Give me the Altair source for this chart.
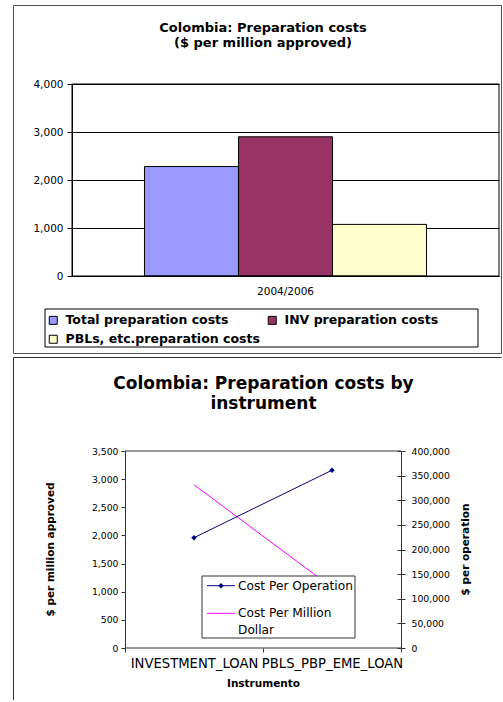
import altair as alt
import pandas as pd

FONT = "DejaVu Sans"

# Upper panel: preparation cost per million approved, one period, three series
period = ["2004/2006"]
series = ["Total preparation costs", "INV preparation costs", "PBLs, etc.preparation costs"]
cost_per_million = [2280, 2900, 1075]
bar_colors = ["#9999FF", "#993366", "#FFFFCC"]
# legend entries fill column by column: Total / PBLs in the first column, INV in the second
legend_order = [series[0], series[2], series[1]]

# Lower panel: cost by instrument
instruments = ["INVESTMENT_LOAN", "PBLS_PBP_EME_LOAN"]
cost_per_operation = [224000, 361000]
cost_per_million_dollar = [2900, 1075]

left_ticks = [0, 500, 1000, 1500, 2000, 2500, 3000, 3500]
right_ticks = [0, 50000, 100000, 150000, 200000, 250000, 300000, 350000, 400000]

bars_df = pd.DataFrame({"period": period * len(series), "series": series, "value": cost_per_million})
inst_df = pd.DataFrame({
    "instrument": instruments,
    "per_operation": cost_per_operation,
    "per_million": cost_per_million_dollar,
})
one = pd.DataFrame({"k": [0]})

W1, H1 = 427, 192
W2, H2 = 329, 197
X2 = 53  # left edge of the lower plot frame inside its view


def box(x, x2, y, y2, stroke="#404040", width=1.0, fill=None):
    kw = dict(stroke=stroke, strokeWidth=width)
    if fill is None:
        kw["fillOpacity"] = 0
    else:
        kw["fill"] = fill
    return alt.Chart(one).mark_rect(**kw).encode(
        x=alt.value(x), x2=alt.value(x2), y=alt.value(y), y2=alt.value(y2)
    )


def hline(x, x2, y, color, width=1.0):
    return alt.Chart(one).mark_rule(color=color, strokeWidth=width).encode(
        x=alt.value(x), x2=alt.value(x2), y=alt.value(y))


def vline(x, y, y2, color, width=1.0):
    return alt.Chart(one).mark_rule(color=color, strokeWidth=width).encode(
        x=alt.value(x), y=alt.value(y), y2=alt.value(y2))


def text(s, x, y, size, weight="normal", align="center"):
    return alt.Chart(one).mark_text(
        font=FONT, fontSize=size, fontWeight=weight, align=align,
        baseline="middle", color="black",
    ).encode(x=alt.value(x), y=alt.value(y), text=alt.value(s))


# ---------- upper panel ----------
bars = alt.Chart(bars_df).mark_bar(stroke="black", strokeWidth=1).encode(
    x=alt.X("period:N", scale=alt.Scale(paddingInner=0, paddingOuter=0.257),
            axis=alt.Axis(title=None, labelAngle=0, ticks=False, domain=True,
                          domainColor="black", labelPadding=10, labelFont=FONT,
                          labelFontSize=10.5, labelColor="black")),
    xOffset=alt.XOffset("series:N", sort=series,
                        scale=alt.Scale(paddingInner=0, paddingOuter=0)),
    y=alt.Y("value:Q", scale=alt.Scale(domain=[0, 4000]),
            axis=alt.Axis(title=None, values=[0, 1000, 2000, 3000, 4000], format=",.0f",
                          grid=True, gridColor="black", gridWidth=1,
                          domainColor="black", tickColor="black", tickSize=5,
                          labelPadding=4, labelFont=FONT, labelFontSize=10.5,
                          labelColor="black")),
    color=alt.Color("series:N", sort=series,
                    scale=alt.Scale(domain=series, range=bar_colors),
                    legend=alt.Legend(title=None, orient="none", legendX=-25, legendY=230,
                                      values=legend_order,
                                      columns=2, symbolType="square", symbolSize=64,
                                      symbolStrokeColor="black", symbolStrokeWidth=1,
                                      symbolOpacity=1, labelFont=FONT, labelFontSize=12.5,
                                      labelFontWeight="bold", labelColor="black",
                                      labelLimit=400, labelOffset=6, rowPadding=6,
                                      columnPadding=6, padding=0)),
)

top = alt.layer(
    box(-58.5, 429.5, -78.5, 269.5, stroke="#505050", width=1),
    bars,
    box(0, W1, 0, H1, stroke="black"),
    box(-27, 406, 225, 263, stroke="black"),
    text("Colombia: Preparation costs", 191, -56, 13, weight="bold"),
    text("($ per million approved)", 191, -41, 13, weight="bold"),
).properties(width=W1, height=H1)

# ---------- lower panel ----------
x_enc = alt.X("instrument:N", sort=instruments,
              scale=alt.Scale(domain=instruments, range=[X2, W2],
                              paddingInner=0, paddingOuter=0),
              axis=alt.Axis(title="Instrumento", domain=False, tickBand="extent",
                            tickSize=4, tickColor="#333333", labelAngle=0,
                            labelOverlap=False, labelFont=FONT, labelFontSize=13.2,
                            labelColor="black", labelPadding=5, titleFont=FONT,
                            titleFontSize=10.5, titleFontWeight="bold",
                            titleColor="black", titlePadding=9))

per_million_line = alt.Chart(inst_df).mark_line(color="#FF00FF", strokeWidth=1).encode(
    x=x_enc,
    y=alt.Y("per_million:Q", scale=alt.Scale(domain=[0, 3500]),
            axis=alt.Axis(orient="left", offset=-X2, values=left_ticks, format=",.0f",
                          grid=False, domainColor="#333333", tickColor="#333333",
                          tickSize=4, labelPadding=3, labelFont=FONT, labelFontSize=9.3,
                          labelColor="black", title="$ per million approved",
                          titleFont=FONT, titleFontSize=10.5, titleFontWeight="bold",
                          titleColor="black", titleAngle=270, titleAlign="center",
                          titleBaseline="middle", titleX=-75, titleY=98)),
)

per_operation_line = alt.Chart(inst_df).mark_line(
    color="#000080", strokeWidth=1,
    point=alt.OverlayMarkDef(shape="diamond", filled=True, size=30, color="#000080"),
).encode(
    x=x_enc,
    y=alt.Y("per_operation:Q", scale=alt.Scale(domain=[0, 400000]),
            axis=alt.Axis(orient="right", values=right_ticks, format=",.0f", grid=False,
                          domainColor="#333333", tickColor="#333333", tickSize=4,
                          labelPadding=6, labelFont=FONT, labelFontSize=9.3,
                          labelColor="black", title="$ per operation",
                          titleFont=FONT, titleFontSize=10.5, titleFontWeight="bold",
                          titleColor="black", titleAngle=270, titleAlign="center",
                          titleBaseline="middle", titleX=64, titleY=98)),
)

# inner half of the crossing ticks on the right axis
inner_ticks = alt.Chart(inst_df).mark_line(opacity=0).encode(
    x=x_enc,
    y=alt.Y("per_operation:Q", scale=alt.Scale(domain=[0, 400000]),
            axis=alt.Axis(orient="right", offset=-4, values=right_ticks, labels=False,
                          domain=False, grid=False, tickColor="#333333", tickSize=4,
                          title=None)),
)

bottom = alt.layer(
    # panel edge: only the top and left sides fall inside the page
    hline(-58.5, 429.5, -93.5, "#303030"),
    vline(-58.5, -93.5, 249, "#303030"),
    per_million_line,
    per_operation_line,
    inner_ticks,
    hline(X2, W2, 0, "#333333"),
    hline(X2, W2, H2, "#333333"),
    box(130, 283, 125, 187, stroke="#333333", fill="white"),
    hline(135, 163, 134.7, "#000080"),
    alt.Chart(one).mark_point(shape="diamond", filled=True, size=30,
                              color="#000080", opacity=1).encode(
        x=alt.value(149), y=alt.value(134.7)),
    hline(135, 163, 162.3, "#FF00FF"),
    text("Cost Per Operation", 166, 134.7, 12.2, align="left"),
    text("Cost Per Million", 166, 162, 12.2, align="left"),
    text("Dollar", 166, 179, 12.2, align="left"),
    text("Colombia: Preparation costs by", 191.5, -67.5, 17, weight="bold"),
    text("instrument", 191.5, -47.5, 17, weight="bold"),
).resolve_scale(y="independent").properties(width=W2, height=H2)

chart = alt.vconcat(top, bottom, spacing=175, bounds="flush").properties(
    padding={"left": 13, "top": 5, "right": 0, "bottom": 0},
    background="white",
).configure_view(stroke=None)

chart.save("out.html", embed_options={"renderer": "svg", "actions": False})
